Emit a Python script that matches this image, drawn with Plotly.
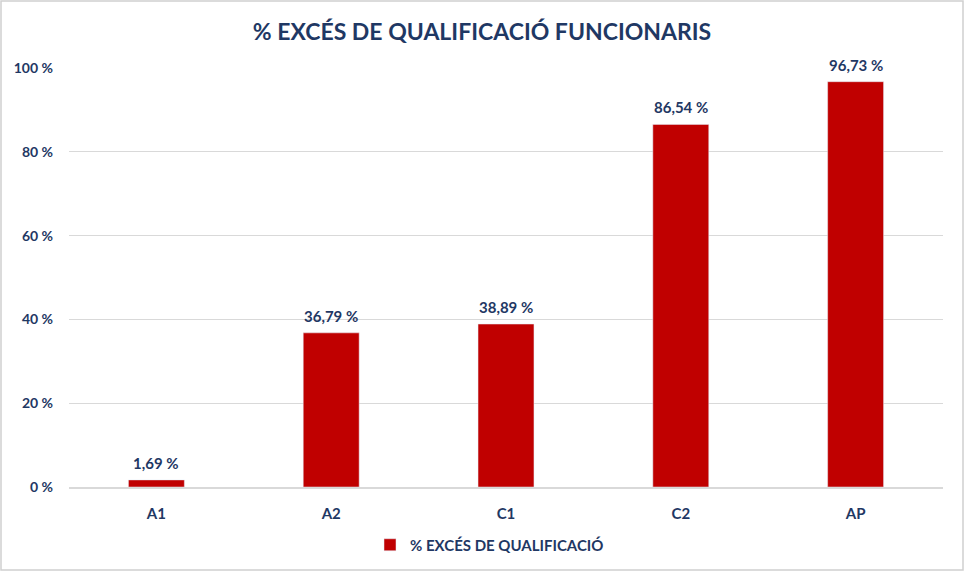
import plotly.graph_objects as go

# Data
categories = ["A1", "A2", "C1", "C2", "AP"]
excess_pct = [1.69, 36.79, 38.89, 86.54, 96.73]
series_name = "% EXCÉS DE QUALIFICACIÓ"
chart_title = "% EXCÉS DE QUALIFICACIÓ FUNCIONARIS"

_RED = "#C00000"
_NAVY = "#1F3864"
_GRID = "#D9D9D9"
_FONT = "Lato, 'Open Sans', sans-serif"

W, H = 964, 573
M = {"l": 69, "r": 21, "t": 68, "b": 86}
pw = W - M["l"] - M["r"]
ph = H - M["t"] - M["b"]

fig = go.Figure(
    go.Bar(
        x=categories,
        y=excess_pct,
        name=f"<b>{series_name}</b>",
        marker_color=_RED,
        width=0.32,
        cliponaxis=False,
    )
)

# value labels above each bar
for cat, val in zip(categories, excess_pct):
    fig.add_annotation(
        x=cat,
        y=val,
        text=f"<b>{val:.2f} %</b>".replace(".", ","),
        showarrow=False,
        yanchor="middle",
        yshift=17,
        font={"size": 15, "color": _NAVY, "family": _FONT},
    )

# light grey frame around the whole chart
fig.add_shape(
    type="rect",
    xref="paper",
    yref="paper",
    x0=-(M["l"] - 1) / pw,
    x1=1 + (M["r"] - 1) / pw,
    y0=-(M["b"] - 3) / ph,
    y1=1 + (M["t"] - 1) / ph,
    line={"color": "#D0D0D0", "width": 1.5},
    layer="below",
)

fig.update_layout(
    width=W,
    height=H,
    margin=M,
    separators=", ",
    paper_bgcolor="white",
    plot_bgcolor="white",
    font={"family": _FONT, "color": _NAVY},
    title={
        "text": f"<b>{chart_title}</b>",
        "x": 0.5,
        "xanchor": "center",
        "y": 1 - 32 / H,
        "yanchor": "middle",
        "font": {"size": 23, "color": _NAVY, "family": _FONT},
    },
    xaxis={
        "tickfont": {"size": 15, "color": _NAVY},
        "tickprefix": "<b>",
        "ticksuffix": "</b>",
        "showline": True,
        "linecolor": _GRID,
        "linewidth": 1.5,
        "ticks": "",
        "ticklabelstandoff": 12,
    },
    yaxis={
        "range": [0, 100],
        "dtick": 20,
        "tickprefix": "<b>",
        "ticksuffix": " %</b>",
        "tickfont": {"size": 14, "color": _NAVY},
        "gridcolor": _GRID,
        "gridwidth": 1,
        "zeroline": False,
        "showline": False,
        "ticklabelstandoff": 15,
    },
    showlegend=True,
    legend={
        "orientation": "h",
        "x": (370 - M["l"]) / pw,
        "xanchor": "left",
        "y": -(545 - (H - M["b"])) / ph,
        "yanchor": "middle",
        "font": {"size": 15, "color": _NAVY},
        "itemwidth": 30,
    },
)

fig.write_html(
    "out.html",
    config={"displayModeBar": False},
    post_script="document.body.style.margin='0';",
)
